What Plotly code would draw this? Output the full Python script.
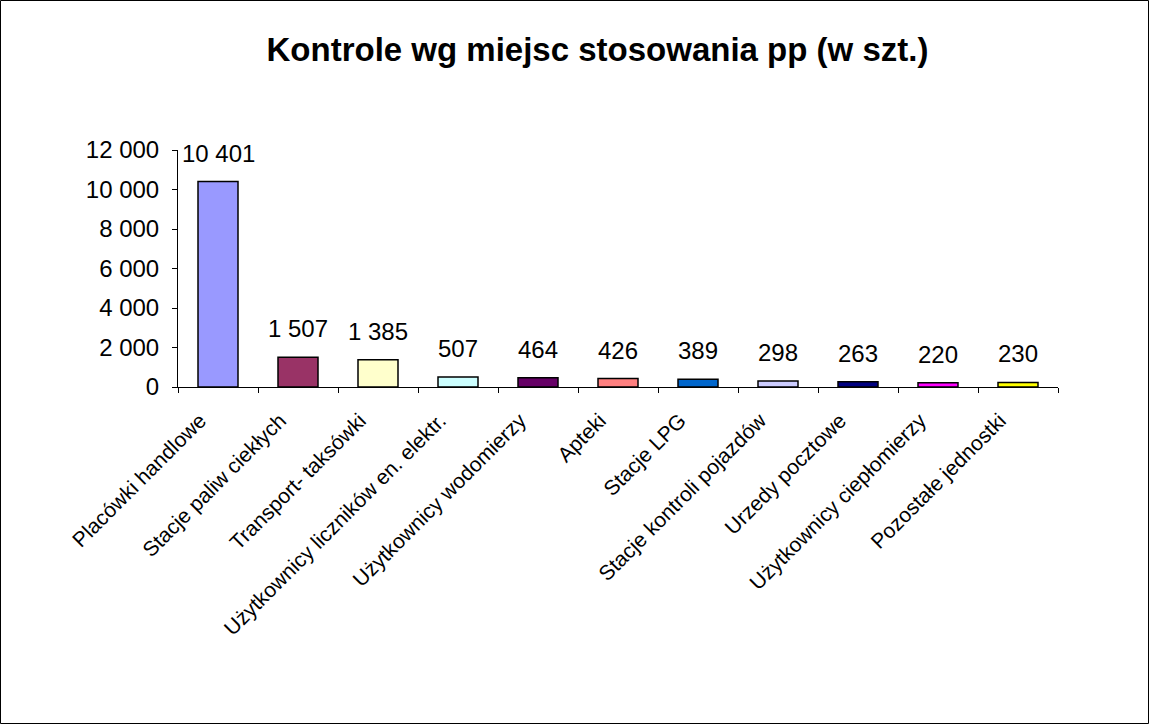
import plotly.graph_objects as go

categories = ["Placówki handlowe", "Stacje paliw ciekłych", "Transport- taksówki",
              "Użytkownicy liczników en. elektr.", "Użytkownicy wodomierzy", "Apteki",
              "Stacje LPG", "Stacje kontroli pojazdów", "Urzedy pocztowe",
              "Użytkownicy ciepłomierzy", "Pozostałe jednostki"]
values = [10401, 1507, 1385, 507, 464, 426, 389, 298, 263, 220, 230]
colors = ["#9999FF", "#993366", "#FFFFCC", "#CCFFFF", "#660066", "#FF8080",
          "#0066CC", "#CCCCFF", "#000080", "#FF00FF", "#FFFF00"]
title = "Kontrole wg miejsc stosowania pp (w szt.)"

W, H = 1149, 724
L, R, T, B = 178, 91, 150, 337
pw, ph = W - L - R, H - T - B

fig = go.Figure(go.Bar(
    x=categories, y=values,
    marker=dict(color=colors, line=dict(color="black", width=1.5)),
    cliponaxis=False,
))

for c, v in zip(categories, values):
    fig.add_annotation(x=c, y=v, text=f"{v:,}".replace(",", " "), showarrow=False,
                       yanchor="bottom", yshift=13, font=dict(size=24, color="black"))

fig.update_layout(
    width=W, height=H,
    margin=dict(l=L, r=R, t=T, b=B),
    paper_bgcolor="white", plot_bgcolor="white",
    separators=", ",
    font=dict(family="Arial, Liberation Sans, sans-serif", color="black"),
    title=dict(text="<b>" + title + "</b>", x=0.52, xanchor="center",
               y=1 - 49 / H, yanchor="middle", font=dict(size=33, color="black")),
    bargap=0.5,
    showlegend=False,
    xaxis=dict(showline=True, linecolor="black", linewidth=1, ticks="outside",
               tickson="boundaries", ticklen=5, tickcolor="black", tickangle=-45,
               tickfont=dict(size=21), showgrid=False, ticklabelstandoff=12,
               ticklabelshift=-18),
    yaxis=dict(range=[0, 12000], dtick=2000, tickformat=",d", showline=True,
               linecolor="black", linewidth=1, ticks="outside", ticklen=5,
               tickcolor="black", tickfont=dict(size=24), showgrid=False,
               zeroline=False, ticklabelstandoff=8),
    shapes=[dict(type="rect", xref="paper", yref="paper",
                 x0=(0.5 - L) / pw, x1=(W - 0.5 - L) / pw,
                 y0=(T + ph - (H - 0.5)) / ph, y1=(T + ph - 0.5) / ph,
                 line=dict(color="black", width=1))],
)

fig.write_html("out.html", post_script="document.body.style.margin='0';",
               config={"displayModeBar": False})
